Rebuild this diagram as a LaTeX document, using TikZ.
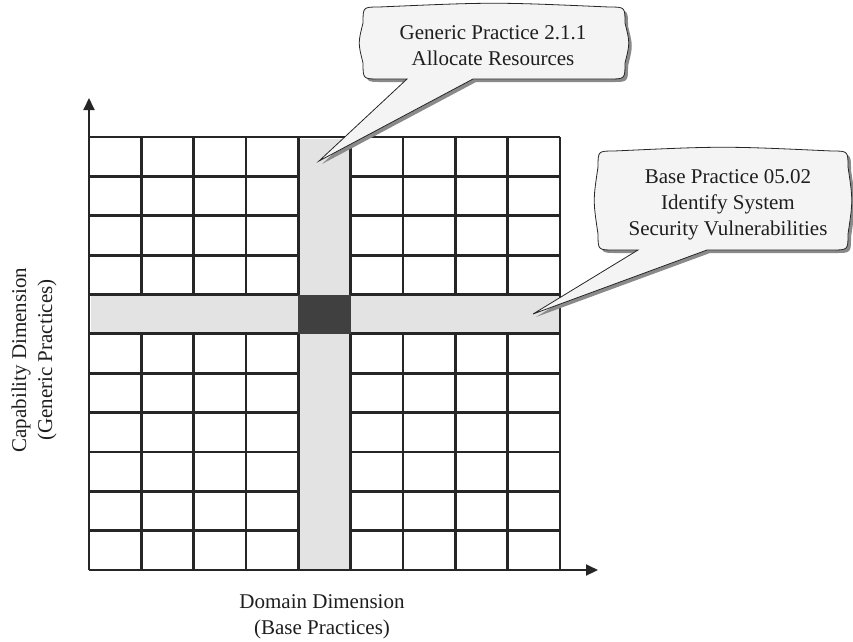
\documentclass[tikz,border=0pt]{standalone}
\usepackage{fontspec}
\setmainfont{Liberation Serif}
\usetikzlibrary{arrows.meta}
\definecolor{gridc}{HTML}{262626}
\definecolor{stripc}{HTML}{E3E3E3}
\definecolor{darkc}{HTML}{404040}
\definecolor{callfill}{HTML}{F4F4F4}
\definecolor{shadowc}{HTML}{8A8A8A}
\definecolor{textc}{HTML}{1E1E1E}
% #1 L, #2 T, #3 R, #4 B, #5 wedge x1, #6 wedge x2, #7 tip x, #8 tip y
\newcommand{\callpath}[8]{%
 (#5,#4) -- (#7,#8) -- (#6,#4) -- ({#3-16},#4) .. controls (#3,#4) .. (#3,{#4-16})
 .. controls ({#3+5},{(#2+#4)/2}) .. (#3,{#2+16})
 .. controls (#3,#2) .. ({#3-16},#2)
 .. controls ({(#1+#3)/2},{#2-5}) .. ({#1+16},#2)
 .. controls (#1,#2) .. (#1,{#2+16})
 .. controls ({#1-5},{(#2+#4)/2}) .. (#1,{#4-16})
 .. controls (#1,#4) .. ({#1+16},#4) -- cycle}
\tikzset{
  gridline/.style={draw=gridc, line width=2.8pt},
  axisline/.style={draw=gridc, line width=2pt, -{Triangle[length=12pt,width=11pt]}},
  lbl/.style={text=textc, align=center, inner sep=0pt, font=\fontsize{21}{26}\selectfont},
  callshadow/.style={fill=shadowc, shift={(3,3)}},
  callbody/.style={fill=callfill, draw=gridc, line width=0.8pt},
}
\begin{document}
\begin{tikzpicture}[x=1pt, y=-1pt]
\useasboundingbox (0,0) rectangle (853,641);
% grid
\foreach \i in {0,...,9} \draw[gridline] ({89+52.333*\i},137) -- ({89+52.333*\i},570);
\foreach \j in {0,...,11} \draw[gridline] (89,{137+39.364*\j}) -- (560,{137+39.364*\j});
% highlighted strips
\fill[stripc] (299.8,138.5) rectangle (349.2,568.5);
\fill[stripc] (90.5,295.9) rectangle (558.5,332.4);
\fill[darkc] (298.3,294.5) rectangle (350.7,333.8);
% axes
\coordinate (O) at (89,570);
\coordinate (ytip) at (89,98);
\coordinate (xtip) at (598,570);
\draw[axisline] (O) -- (ytip);
\draw[axisline] (O) -- (xtip);
% callout 1
\fill[callshadow] \callpath{363}{7}{625}{79}{407}{473}{319}{161};
\draw[callbody] \callpath{363}{7}{625}{79}{407}{473}{319}{161};
% callout 2
\fill[callshadow] \callpath{598}{151}{848}{250}{638}{707}{533}{314};
\draw[callbody] \callpath{598}{151}{848}{250}{638}{707}{533}{314};
% labels
\node[lbl] (gp) at (493,46) {Generic Practice 2.1.1\\Allocate Resources};
\node[lbl] (bp) at (728,205) {Base Practice 05.02\\Identify System\\Security Vulnerabilities};
\node[lbl] (dom) at (322,617) {Domain Dimension\\(Base Practices)};
\node[lbl, rotate=90] (cap) at (34,360) {Capability Dimension\\(Generic Practices)};
\end{tikzpicture}
\end{document}
